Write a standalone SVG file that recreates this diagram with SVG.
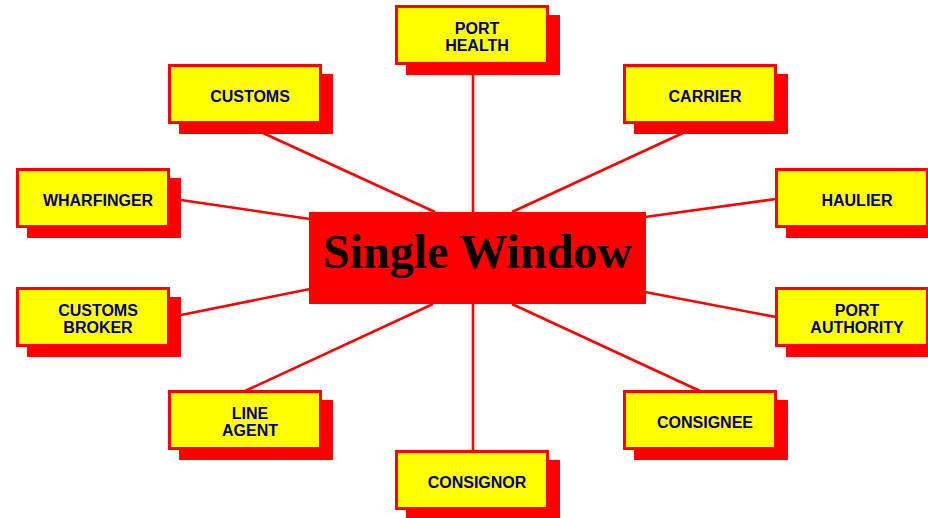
<svg xmlns="http://www.w3.org/2000/svg" width="928" height="518" viewBox="0 0 928 518">
<style>
.bg{fill:#ffffff}
.conn line{stroke:#ff0000;stroke-width:2.6;fill:none}
.shadow{fill:#ff0000}
.box{fill:#ffff00;stroke:#ff0000;stroke-width:3}
.lbl{font-family:"Liberation Sans",Arial,sans-serif;font-weight:bold;font-size:16px;fill:#000080;text-anchor:middle}
.center{fill:#ff0000}
.title{font-family:"Liberation Serif","Times New Roman",serif;font-weight:bold;font-size:48px;fill:#000000;text-anchor:middle}
</style>
<defs>
<g id="card">
<rect class="shadow" x="11" y="10" width="154" height="60"/>
<rect class="box" x="1.5" y="1.5" width="151" height="57"/>
</g>
</defs>
<rect class="bg" x="0" y="0" width="928" height="518"/>
<g id="connectors" class="conn">
<line x1="473" y1="65" x2="473" y2="212"/>
<line x1="263" y1="133" x2="435" y2="212"/>
<line x1="683" y1="133" x2="512" y2="212"/>
<line x1="181" y1="200" x2="310" y2="219"/>
<line x1="776" y1="199" x2="645" y2="217"/>
<line x1="181" y1="315" x2="310" y2="289"/>
<line x1="776" y1="317" x2="645" y2="292"/>
<line x1="245" y1="391" x2="433" y2="304"/>
<line x1="700" y1="391" x2="512" y2="304"/>
<line x1="473" y1="304" x2="473" y2="450"/>
</g>
<g id="port-health" transform="translate(395,5)">
<use href="#card"/>
<text class="lbl" x="82" y="29">PORT</text>
<text class="lbl" x="82" y="46">HEALTH</text>
</g>
<g id="customs" transform="translate(168,64)">
<use href="#card"/>
<text class="lbl" x="82" y="37.5">CUSTOMS</text>
</g>
<g id="carrier" transform="translate(623,64)">
<use href="#card"/>
<text class="lbl" x="82" y="37.5">CARRIER</text>
</g>
<g id="wharfinger" transform="translate(16,168)">
<use href="#card"/>
<text class="lbl" x="82" y="37.5">WHARFINGER</text>
</g>
<g id="haulier" transform="translate(775,168)">
<use href="#card"/>
<text class="lbl" x="82" y="37.5">HAULIER</text>
</g>
<g id="customs-broker" transform="translate(16,287)">
<use href="#card"/>
<text class="lbl" x="82" y="29">CUSTOMS</text>
<text class="lbl" x="82" y="46">BROKER</text>
</g>
<g id="port-authority" transform="translate(775,287)">
<use href="#card"/>
<text class="lbl" x="82" y="29">PORT</text>
<text class="lbl" x="82" y="46">AUTHORITY</text>
</g>
<g id="line-agent" transform="translate(168,390)">
<use href="#card"/>
<text class="lbl" x="82" y="29">LINE</text>
<text class="lbl" x="82" y="46">AGENT</text>
</g>
<g id="consignee" transform="translate(623,390)">
<use href="#card"/>
<text class="lbl" x="82" y="37.5">CONSIGNEE</text>
</g>
<g id="consignor" transform="translate(395,450)">
<use href="#card"/>
<text class="lbl" x="82" y="37.5">CONSIGNOR</text>
</g>
<g id="single-window">
<rect class="center" x="309" y="212" width="337" height="92"/>
<text class="title" x="477.5" y="268">Single Window</text>
</g>
</svg>
